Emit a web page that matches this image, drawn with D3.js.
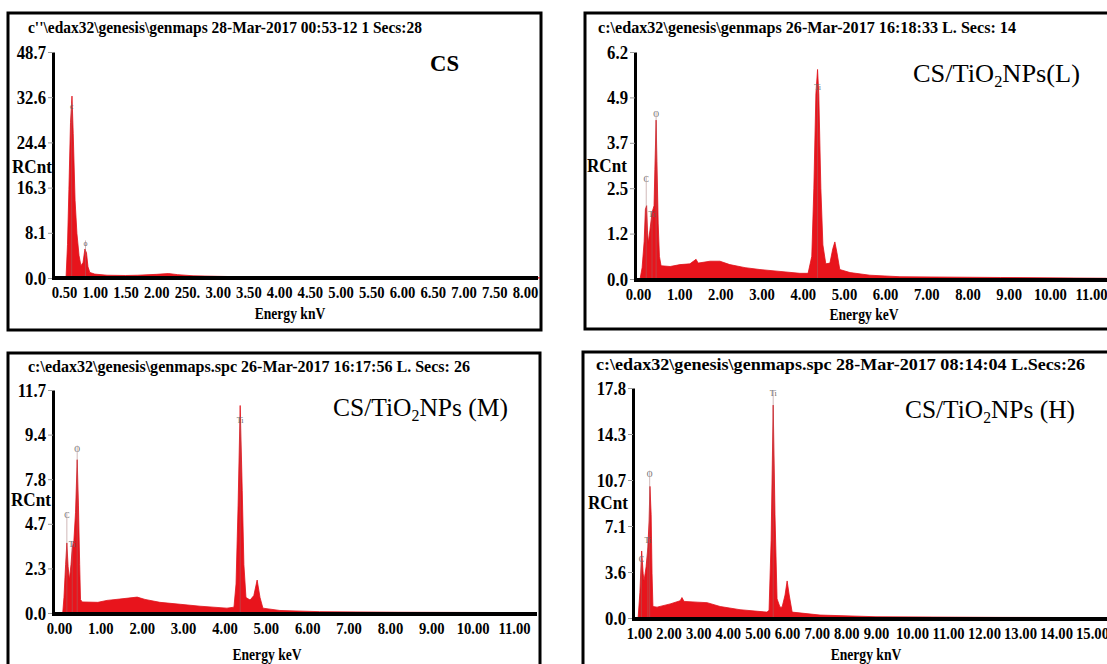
<!DOCTYPE html>
<html>
<head>
<meta charset="utf-8">
<script src="https://cdn.jsdelivr.net/npm/d3@7"></script>
<style>
  body { margin: 0; background: #fff; }
  svg { display: block; font-family: "Liberation Serif", "Times New Roman", serif; }
</style>
</head>
<body>
<div class="edsChart"></div>
<script>
// ---- CS (top left) ----
var csEnergy = [0.533, 0.557, 0.58, 0.606, 0.63, 0.65, 0.68, 0.71, 0.745, 0.776, 0.81, 0.84, 0.866, 0.89, 0.92, 1.00,
                1.20, 1.50, 1.70, 2.00, 2.20, 2.35, 2.60, 3.00, 3.50, 4.00, 5.00, 6.00, 7.00, 8.00, 8.24];
var csCounts = [0, 6, 16, 28, 33, 26, 14, 8, 4, 2.2, 2.8, 5.2, 4.5, 2, 1.0, 0.7,
                0.5, 0.45, 0.5, 0.65, 0.8, 0.6, 0.4, 0.3, 0.2, 0.15, 0.1, 0.07, 0.05, 0.04, 0.03];
var csYTicks = [0, 8.1, 16.3, 24.4, 32.6, 48.7];
var csXTicks = [0.5, 1, 1.5, 2, 2.5, 3, 3.5, 4, 4.5, 5, 5.5, 6, 6.5, 7, 7.5, 8];
var csXLabels = ["0.50", "1.00", "1.50", "2.00", "250.", "3.00", "3.50", "4.00", "4.50", "5.00", "5.50", "6.00", "6.50", "7.00", "7.50", "8.00"];
var csMarkNames = ["c", "o"];
var csMarkEnergy = [0.625, 0.85];
var csMarkLevel = [31, 6.2];

// ---- CS/TiO2NPs (L) (top right) ----
var lowEnergy = [0.05, 0.10, 0.15, 0.18, 0.21, 0.23, 0.25, 0.29, 0.34, 0.39, 0.41, 0.44, 0.46, 0.49, 0.52, 0.56, 0.78,
                 1.02, 1.26, 1.41, 1.46, 1.75, 1.99, 2.23, 2.60, 2.96, 3.45, 3.93, 4.13, 4.22, 4.27, 4.32, 4.36, 4.39,
                 4.44, 4.49, 4.56, 4.66, 4.73, 4.78, 4.83, 4.90, 5.15, 5.63, 6.36, 8.80, 11.38];
var lowCounts = [0, 0.3, 1.0, 1.9, 2.0, 1.3, 0.95, 1.3, 1.8, 2.0, 3.0, 4.3, 3.2, 1.5, 0.6, 0.35, 0.33,
                 0.38, 0.4, 0.52, 0.42, 0.47, 0.47, 0.38, 0.3, 0.25, 0.2, 0.15, 0.15, 0.6, 2.5, 5.0, 5.7, 5.0,
                 2.5, 0.9, 0.4, 0.42, 0.8, 0.98, 0.7, 0.25, 0.17, 0.1, 0.06, 0.04, 0.02];
var lowYTicks = [0, 1.2, 2.5, 3.7, 4.9, 6.2];
var lowXTicks = [0, 1, 2, 3, 4, 5, 6, 7, 8, 9, 10, 11];
var lowXLabels = ["0.00", "1.00", "2.00", "3.00", "4.00", "5.00", "6.00", "7.00", "8.00", "9.00", "10.00", "11.00"];
var lowMarkNames = ["C", "Ti", "O", "Ti"];
var lowMarkEnergy = [0.20, 0.34, 0.44, 4.36];
var lowMarkLevel = [2.75, 1.75, 4.45, 5.2];

// ---- CS/TiO2NPs (M) (bottom left) ----
var midEnergy = [0.09, 0.12, 0.16, 0.19, 0.22, 0.25, 0.29, 0.32, 0.36, 0.40, 0.44, 0.47, 0.50, 0.52, 0.56, 0.94,
                 1.16, 1.47, 1.89, 2.08, 2.44, 2.93, 3.41, 4.06, 4.23, 4.28, 4.33, 4.38, 4.43, 4.47, 4.52, 4.62,
                 4.71, 4.79, 4.86, 4.93, 5.34, 6.30, 8.20, 11.40];
var midCounts = [0, 0.8, 2.5, 3.67, 2.4, 1.7, 2.5, 3.4, 3.8, 5.5, 8.5, 6.0, 2.5, 0.7, 0.57, 0.55,
                 0.65, 0.72, 0.82, 0.7, 0.55, 0.45, 0.35, 0.25, 0.3, 1.5, 6.0, 10.9, 7.0, 2.5, 0.8, 0.67,
                 0.9, 1.7, 0.8, 0.25, 0.13, 0.07, 0.04, 0.02];
var midYTicks = [0, 2.3, 4.7, 7.8, 9.4, 11.7];
var midXTicks = [0, 1, 2, 3, 4, 5, 6, 7, 8, 9, 10, 11];
var midXLabels = ["0.00", "1.00", "2.00", "3.00", "4.00", "5.00", "6.00", "7.00", "8.00", "9.00", "10.00", "11.00"];
var midMarkNames = ["C", "Ti", "O", "Ti"];
var midMarkEnergy = [0.19, 0.32, 0.44, 4.38];
var midMarkLevel = [5.3, 3.6, 8.9, 10.15];

// ---- CS/TiO2NPs (H) (bottom right) ----
var highEnergy = [0.97, 1.03, 1.09, 1.14, 1.17, 1.24, 1.30, 1.34, 1.37, 1.41, 1.44, 1.47, 1.61, 2.05, 2.39, 2.45,
                  2.52, 2.96, 3.30, 3.74, 4.41, 5.32, 5.39, 5.46, 5.53, 5.59, 5.66, 5.76, 5.83, 5.93, 6.00, 6.07,
                  6.17, 7.11, 9.00, 12.40, 15.40];
var highCounts = [0, 2, 5.2, 3.5, 2.9, 4.0, 5.5, 7.5, 10.2, 8.0, 3.5, 0.9, 0.85, 1.1, 1.35, 1.6,
                  1.3, 1.24, 1.2, 0.9, 0.65, 0.46, 0.6, 6.0, 16.5, 8.0, 1.5, 0.85, 0.85, 1.8, 2.9, 1.8,
                  0.46, 0.23, 0.1, 0.05, 0.03];
var highYTicks = [0, 3.6, 7.1, 10.7, 14.3, 17.8];
var highXTicks = [1, 2, 3, 4, 5, 6, 7, 8, 9, 10, 11, 12, 13, 14, 15];
var highXLabels = ["1.00", "2.00", "3.00", "4.00", "5.00", "6.00", "7.00", "8.00", "9.00", "10.00", "11.00", "12.00", "13.00", "14.00", "15.00"];
var highMarkNames = ["C", "Ti", "O", "Ti"];
var highMarkEnergy = [1.08, 1.30, 1.36, 5.53];
var highMarkLevel = [4.6, 6.0, 11.2, 17.4];

// layout of the four frames (pixels)
var panels = [
  { box: [8, 13, 533, 317], header: "c''\\edax32\\genesis\\genmaps 28-Mar-2017 00:53-12 1 Secs:28",
    headerPos: [28, 33], headerLen: 394,
    left: 53, right: 538, top: 52, bottom: 278, axisY: 278,
    xKnots: [0.5, 8], xRange: [64, 525],
    energy: csEnergy, counts: csCounts, yTicks: csYTicks, xTicks: csXTicks, xLabels: csXLabels,
    marks: [csMarkNames, csMarkEnergy, csMarkLevel],
    rcnt: [12, 173], xTitle: "Energy knV", xTitlePos: [290, 319],
    name: "CS", nameBold: true, namePos: [430, 71], nameLen: 29, nameSize: 24 },
  { box: [585, 13, 540, 316], header: "c:\\edax32\\genesis\\genmaps 26-Mar-2017 16:18:33 L. Secs: 14",
    headerPos: [598, 33], headerLen: 418,
    left: 635, right: 1107, top: 52, bottom: 279, axisY: 280,
    xKnots: [0, 11], xRange: [638, 1091],
    energy: lowEnergy, counts: lowCounts, yTicks: lowYTicks, xTicks: lowXTicks, xLabels: lowXLabels,
    marks: [lowMarkNames, lowMarkEnergy, lowMarkLevel],
    rcnt: [587, 172], xTitle: "Energy keV", xTitlePos: [864, 320],
    name: "CS/TiO", nameTail: "NPs(L)", namePos: [913, 82], nameLen: 167, nameSize: 26 },
  { box: [8, 353, 532, 320], header: "c:\\edax32\\genesis\\genmaps.spc 26-Mar-2017 16:17:56 L. Secs: 26",
    headerPos: [28, 372], headerLen: 442,
    left: 53, right: 537, top: 390, bottom: 613, axisY: 614,
    xKnots: [0, 11], xRange: [59, 514],
    energy: midEnergy, counts: midCounts, yTicks: midYTicks, xTicks: midXTicks, xLabels: midXLabels,
    marks: [midMarkNames, midMarkEnergy, midMarkLevel],
    rcnt: [11, 506], xTitle: "Energy keV", xTitlePos: [267, 660],
    name: "CS/TiO", nameTail: "NPs (M)", namePos: [333, 416], nameLen: 175, nameSize: 26 },
  { box: [583, 352, 540, 320], header: "c:\\edax32\\genesis\\genmaps.spc 28-Mar-2017 08:14:04 L.Secs:26",
    headerPos: [596, 370], headerLen: 489,
    left: 633, right: 1107, top: 388, bottom: 618, axisY: 619,
    xKnots: [1, 9, 15], xRange: [639, 876, 1092],
    energy: highEnergy, counts: highCounts, yTicks: highYTicks, xTicks: highXTicks, xLabels: highXLabels,
    marks: [highMarkNames, highMarkEnergy, highMarkLevel],
    rcnt: [588, 509], xTitle: "Energy knV", xTitlePos: [866, 660],
    name: "CS/TiO", nameTail: "NPs (H)", namePos: [905, 418], nameLen: 170, nameSize: 26 }
];

var svg = d3.select(".edsChart")
  .append("svg")
    .attr("width", 1107)
    .attr("height", 664);

svg.append("rect").attr("width", 1107).attr("height", 664).attr("fill", "#fff");

panels.forEach(drawPanel);

// squeeze text horizontally, the scans use a tall narrow bold face
function condense(sel, f) {
  sel.each(function() {
    var w = this.getComputedTextLength();
    d3.select(this).attr("textLength", w * f).attr("lengthAdjust", "spacingAndGlyphs");
  });
}

function drawPanel(p) {
  var g = svg.append("g");

  // frame
  g.append("rect")
    .attr("x", p.box[0]).attr("y", p.box[1])
    .attr("width", p.box[2]).attr("height", p.box[3])
    .attr("fill", "none").attr("stroke", "#000").attr("stroke-width", 3);

  // header line
  g.append("text")
    .attr("x", p.headerPos[0]).attr("y", p.headerPos[1])
    .attr("font-size", 17).attr("font-weight", "bold")
    .attr("textLength", p.headerLen).attr("lengthAdjust", "spacingAndGlyphs")
    .text(p.header);

  var step = (p.bottom - p.top) / (p.yTicks.length - 1);
  var y = d3.scaleLinear()
    .domain(p.yTicks)
    .range(p.yTicks.map(function(d, i) { return p.bottom - i * step; }));
  var x = d3.scaleLinear().domain(p.xKnots).range(p.xRange);

  var spectrum = p.energy.map(function(e, i) { return { e: e, c: p.counts[i] }; });

  // spectrum area
  var area = d3.area()
    .x(function(d) { return x(d.e); })
    .y0(y(0))
    .y1(function(d) { return y(d.c); });
  g.append("path")
    .attr("d", area(spectrum))
    .attr("fill", "#e8141c")
    .attr("stroke", "#e0121a")
    .attr("stroke-width", 0.8);

  // peak markers
  var names = p.marks[0], me = p.marks[1], ml = p.marks[2];
  names.forEach(function(n, i) {
    g.append("line")
      .attr("x1", x(me[i])).attr("x2", x(me[i]))
      .attr("y1", y(0)).attr("y2", y(ml[i]) - 3)
      .attr("stroke", "#a07070").attr("stroke-width", 0.8).attr("opacity", 0.6);
    g.append("text")
      .attr("x", x(me[i])).attr("y", y(ml[i]) + 3)
      .attr("text-anchor", "middle")
      .attr("font-size", 8).attr("fill", "#666")
      .text(n);
  });

  // y axis
  var yAxis = g.append("g")
    .attr("transform", "translate(" + p.left + ",0)")
    .call(d3.axisLeft(y).tickValues(p.yTicks).tickFormat(d3.format(".1f"))
      .tickSize(5).tickSizeOuter(0).tickPadding(2));
  yAxis.select(".domain").attr("stroke", "#000").attr("stroke-width", 3);
  yAxis.selectAll(".tick line").attr("stroke", "#999");
  yAxis.selectAll(".tick text")
    .attr("font-family", "Liberation Serif, serif")
    .attr("font-size", 19).attr("font-weight", "bold").attr("fill", "#000")
    .call(condense, 0.88);

  // x axis
  g.append("line")
    .attr("x1", p.left - 1).attr("x2", p.right)
    .attr("y1", p.axisY).attr("y2", p.axisY)
    .attr("stroke", "#000").attr("stroke-width", 4);
  var xAxis = g.append("g")
    .attr("transform", "translate(0," + p.axisY + ")")
    .call(d3.axisBottom(x).tickValues(p.xTicks)
      .tickFormat(function(d, i) { return p.xLabels[i]; })
      .tickSize(0).tickPadding(8));
  xAxis.select(".domain").remove();
  xAxis.selectAll(".tick text")
    .attr("font-family", "Liberation Serif, serif")
    .attr("font-size", 17).attr("font-weight", "bold").attr("fill", "#000")
    .call(condense, 0.86);

  // axis titles
  g.append("text")
    .attr("x", p.rcnt[0]).attr("y", p.rcnt[1])
    .attr("font-size", 19).attr("font-weight", "bold")
    .text("RCnt")
    .call(condense, 0.9);
  g.append("text")
    .attr("x", p.xTitlePos[0]).attr("y", p.xTitlePos[1])
    .attr("text-anchor", "middle")
    .attr("font-size", 17).attr("font-weight", "bold")
    .text(p.xTitle)
    .call(condense, 0.8);

  // sample name
  var nm = g.append("text")
    .attr("x", p.namePos[0]).attr("y", p.namePos[1])
    .attr("font-size", p.nameSize)
    .attr("font-weight", p.nameBold ? "bold" : "normal")
    .attr("textLength", p.nameLen).attr("lengthAdjust", "spacingAndGlyphs");
  nm.append("tspan").text(p.name);
  if (p.nameTail) {
    nm.append("tspan").attr("dy", 5).attr("font-size", p.nameSize * 0.62).text("2");
    nm.append("tspan").attr("dy", -5).text(p.nameTail);
  }
}
</script>
</body>
</html>
